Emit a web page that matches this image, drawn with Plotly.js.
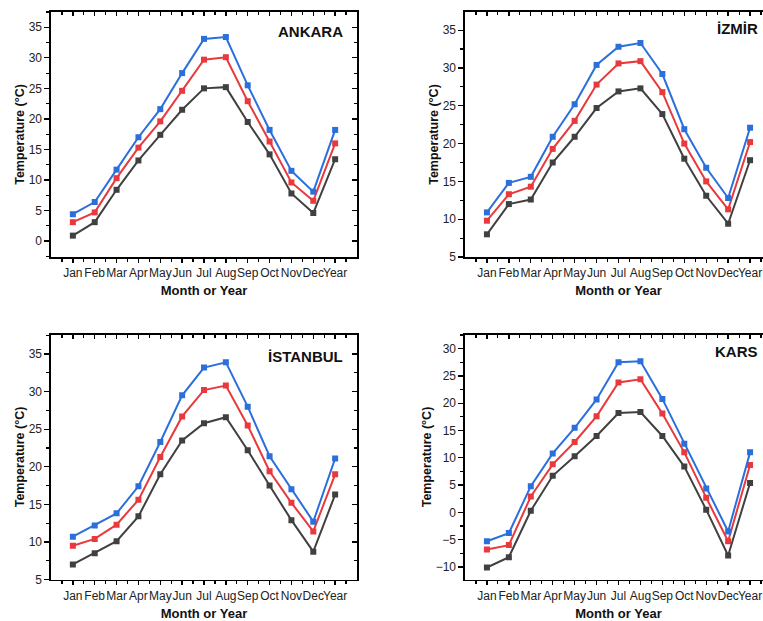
<!DOCTYPE html>
<html>
<head>
<meta charset="utf-8">
<script src="https://cdn.plot.ly/plotly-3.0.1.min.js"></script>
<style>
html, body { margin: 0; padding: 0; overflow: hidden; background: #fff; }
#chart { width: 780px; height: 621px; }
</style>
</head>
<body>
<div id="chart"></div>
<script>
// ---- data ----
const categories = ["Jan","Feb","Mar","Apr","May","Jun","Jul","Aug","Sep","Oct","Nov","Dec","Year"];
const cities = ["ANKARA", "İZMİR", "İSTANBUL", "KARS"];

const ankaraMax  = [4.4, 6.4, 11.7, 17.0, 21.6, 27.5, 33.1, 33.4, 25.5, 18.2, 11.5, 8.1, 18.2];
const ankaraMean = [3.1, 4.7, 10.3, 15.3, 19.6, 24.6, 29.7, 30.1, 22.9, 16.3, 9.6, 6.6, 16.0];
const ankaraMin  = [0.9, 3.1, 8.4, 13.2, 17.4, 21.5, 25.0, 25.2, 19.5, 14.2, 7.8, 4.6, 13.4];

const izmirMax  = [10.9, 14.8, 15.6, 20.9, 25.2, 30.4, 32.8, 33.3, 29.2, 21.9, 16.8, 12.8, 22.1];
const izmirMean = [9.8, 13.3, 14.3, 19.3, 23.0, 27.8, 30.6, 30.9, 26.8, 20.0, 15.0, 11.3, 20.2];
const izmirMin  = [8.0, 12.0, 12.6, 17.5, 20.9, 24.7, 26.9, 27.3, 23.9, 18.0, 13.1, 9.4, 17.8];

const istanbulMax  = [10.7, 12.2, 13.8, 17.4, 23.3, 29.5, 33.2, 33.9, 28.0, 21.4, 17.0, 12.7, 21.1];
const istanbulMean = [9.5, 10.4, 12.3, 15.6, 21.3, 26.7, 30.2, 30.8, 25.5, 19.4, 15.2, 11.4, 19.0];
const istanbulMin  = [7.0, 8.5, 10.1, 13.4, 19.0, 23.5, 25.8, 26.6, 22.2, 17.5, 12.9, 8.7, 16.3];

const karsMax  = [-5.3, -3.8, 4.8, 10.8, 15.5, 20.7, 27.5, 27.7, 20.8, 12.6, 4.4, -3.5, 11.0];
const karsMean = [-6.8, -6.0, 2.9, 8.8, 12.9, 17.6, 23.8, 24.4, 18.1, 11.0, 2.7, -5.3, 8.7];
const karsMin  = [-10.1, -8.2, 0.3, 6.7, 10.3, 14.0, 18.2, 18.4, 14.0, 8.4, 0.5, -7.9, 5.4];

const yTitle = "Temperature (°C)";
const xTitle = "Month or Year";

// ---- styling / layout ----
const W = 780, H = 621;
const colors = { max: "#2a6fdc", mean: "#e8393c", min: "#404040" };
const FONT = "Liberation Sans, Arial, sans-serif";

const panels = [
  { name: cities[0], data: [ankaraMin, ankaraMean, ankaraMax],     xd: [51, 357],  yd: [12, 257],    yr: [-2.6, 37.5], titleOff: 20 },
  { name: cities[1], data: [izmirMin, izmirMean, izmirMax],        xd: [465, 772], yd: [12, 257],    yr: [5, 37.4],    titleOff: 17 },
  { name: cities[2], data: [istanbulMin, istanbulMean, istanbulMax], xd: [51, 357], yd: [334.5, 579.5], yr: [5, 37.6], titleOff: 22 },
  { name: cities[3], data: [karsMin, karsMean, karsMax],           xd: [465, 772], yd: [334.5, 579.5], yr: [-12.3, 32.6], titleOff: 17.5 }
];

const xIdx = categories.map((c, i) => i);
const traces = [];
const layout = {
  width: W, height: H,
  margin: { l: 0, r: 0, t: 0, b: 0 },
  paper_bgcolor: "#fff", plot_bgcolor: "#fff",
  showlegend: false,
  font: { family: FONT, color: "#222" },
  annotations: []
};

panels.forEach((p, k) => {
  const n = k + 1, m = k + 5;
  const xa = n === 1 ? "x" : "x" + n, ya = n === 1 ? "y" : "y" + n;
  const xo = "x" + m, yo = "y" + m;
  const serColors = [colors.min, colors.mean, colors.max];
  p.data.forEach((vals, s) => {
    traces.push({
      type: "scatter", mode: "lines+markers",
      x: xIdx, y: vals, xaxis: xa, yaxis: ya,
      line: { color: serColors[s], width: 2 },
      marker: { symbol: "square", size: 6, color: serColors[s] },
      hoverinfo: "y"
    });
  });
  // empty trace to host the mirror axes (top / right, inward ticks)
  traces.push({ type: "scatter", mode: "markers", x: [], y: [], xaxis: xo, yaxis: yo, hoverinfo: "skip" });

  const xdom = [p.xd[0] / W, p.xd[1] / W];
  const ydom = [1 - p.yd[1] / H, 1 - p.yd[0] / H];
  const common = { showgrid: false, zeroline: false, showline: true, linecolor: "#000", linewidth: 1.6, fixedrange: true };

  layout["xaxis" + (n === 1 ? "" : n)] = Object.assign({}, common, {
    domain: xdom, anchor: ya, range: [-1, 13],
    tickmode: "array", tickvals: xIdx, ticktext: categories, tickangle: 0,
    ticks: "outside", ticklen: 4, tickwidth: 1.3, tickcolor: "#000",
    minor: { tickmode: "linear", tick0: -0.5, dtick: 1, ticks: "outside", ticklen: 3, tickwidth: 1.2, tickcolor: "#000" },
    tickfont: { size: 12, family: FONT, color: "#222" },
    title: { text: xTitle, font: { size: 13, family: FONT, color: "#111", weight: "bold" }, standoff: 7 }
  });
  layout["yaxis" + (n === 1 ? "" : n)] = Object.assign({}, common, {
    domain: ydom, anchor: xa, range: p.yr,
    tickmode: "linear", dtick: 5,
    ticks: "outside", ticklen: 5, tickwidth: 1.3, tickcolor: "#000",
    minor: { tickmode: "linear", dtick: 2.5, ticks: "outside", ticklen: 3, tickwidth: 1.2, tickcolor: "#000" },
    tickfont: { size: 12, family: FONT, color: "#222" },
    title: { text: yTitle, font: { size: 12.5, family: FONT, color: "#111", weight: "bold" }, standoff: 1 }
  });
  layout["xaxis" + m] = Object.assign({}, common, {
    overlaying: xa, side: "top", anchor: ya, range: [-1, 13],
    tickmode: "array", tickvals: xIdx, showticklabels: false,
    ticks: "inside", ticklen: 4, tickwidth: 1.3, tickcolor: "#000",
    minor: { tickmode: "linear", tick0: -0.5, dtick: 1, ticks: "inside", ticklen: 3, tickwidth: 1.2, tickcolor: "#000" }
  });
  layout["yaxis" + m] = Object.assign({}, common, {
    overlaying: ya, side: "right", anchor: xa, range: p.yr,
    tickmode: "linear", dtick: 5, showticklabels: false,
    ticks: "inside", ticklen: 5, tickwidth: 1.3, tickcolor: "#000",
    minor: { tickmode: "linear", dtick: 2.5, ticks: "inside", ticklen: 3, tickwidth: 1.2, tickcolor: "#000" }
  });

  layout.annotations.push({
    text: "<b>" + p.name + "</b>",
    xref: xa + " domain", yref: ya + " domain",
    x: 0.961, y: 1 - p.titleOff / (p.yd[1] - p.yd[0]),
    xanchor: "right", yanchor: "middle", showarrow: false,
    font: { size: 15, family: FONT, color: "#111" }
  });
});

Plotly.newPlot("chart", traces, layout, { staticPlot: true, displayModeBar: false });
</script>
</body>
</html>
